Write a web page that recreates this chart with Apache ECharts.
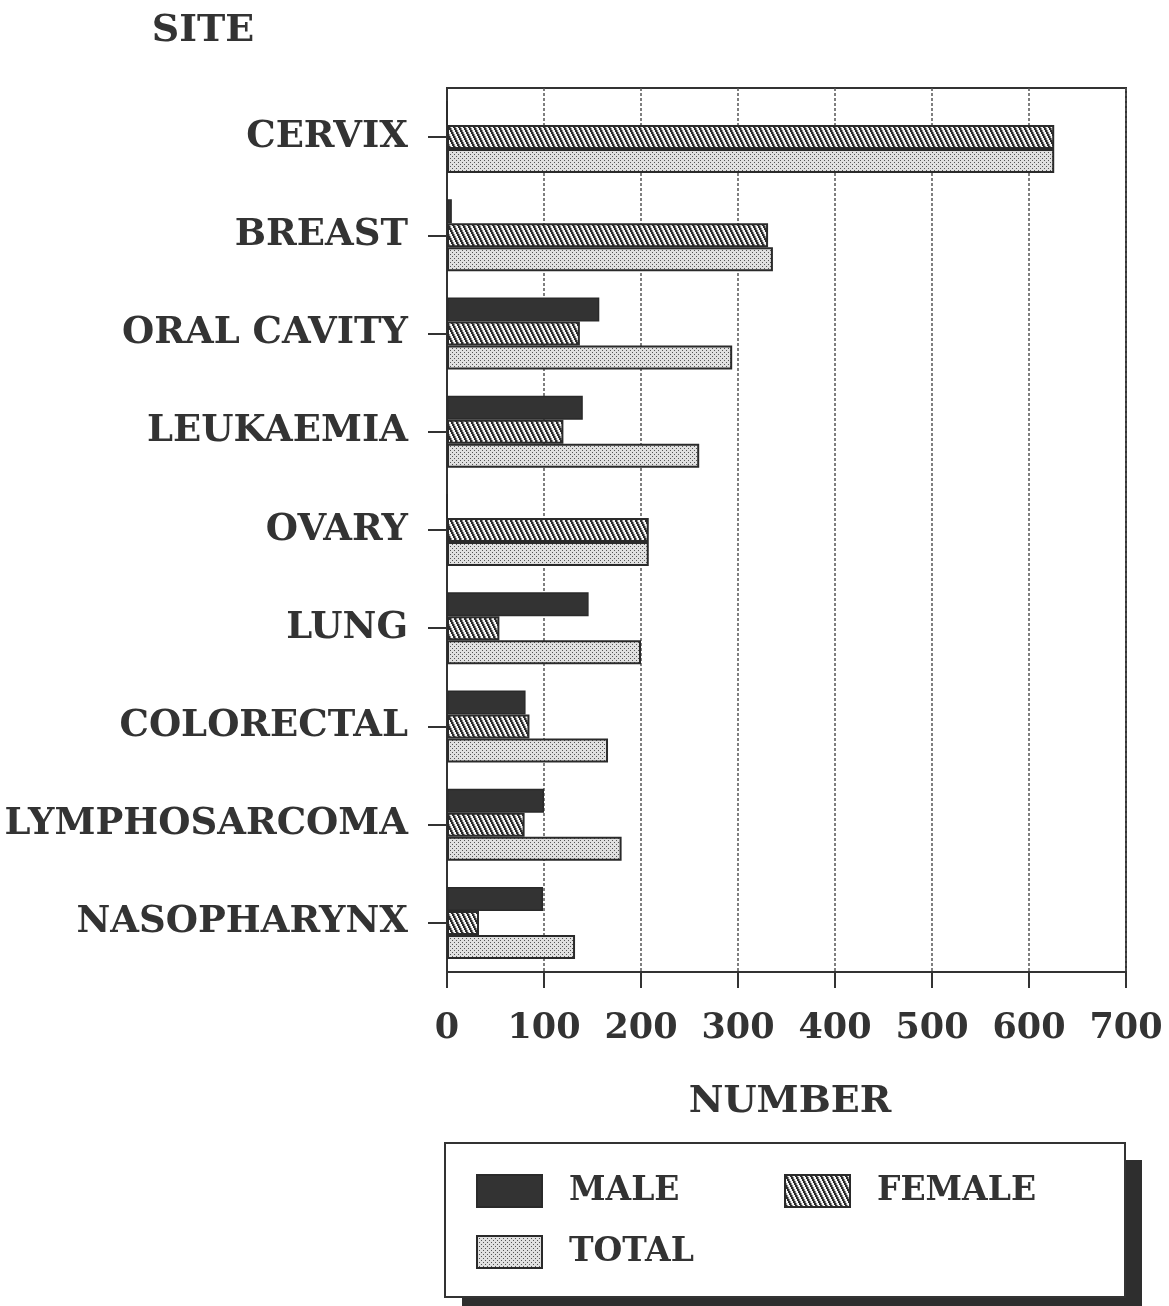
<!DOCTYPE html>
<html>
<head>
<meta charset="utf-8">
<script src="https://cdn.jsdelivr.net/npm/echarts@6/dist/echarts.min.js"></script>
<style>
html,body{margin:0;padding:0;background:#ffffff;}
#chart{width:1169px;height:1306px;}
</style>
</head>
<body>
<div id="chart"></div>
<script>
const sites = ['CERVIX','BREAST','ORAL CAVITY','LEUKAEMIA','OVARY','LUNG','COLORECTAL','LYMPHOSARCOMA','NASOPHARYNX'];
const male   = [0, 5, 157, 140, 0, 146, 81, 100, 99];
const female = [626, 331, 137, 120, 208, 54, 85, 80, 33];
const total  = [626, 336, 294, 260, 208, 200, 166, 180, 132];
const xTicks = [0, 100, 200, 300, 400, 500, 600, 700];

const INK = '#333333';
const FONT = "'DejaVu Serif', serif";

function hatchTile(){
  const c = document.createElement('canvas');
  c.width = 5; c.height = 10;
  const g = c.getContext('2d');
  g.fillStyle = '#f4f4f4'; g.fillRect(0,0,5,10);
  for (let y = 0; y < 10; y++) {
    const x0 = Math.floor(y/2);
    g.fillStyle = '#2a2a2a';
    g.fillRect(x0 % 5, y, 1, 1);
    g.fillRect((x0+1) % 5, y, 1, 1);
    g.fillStyle = '#8a8a8a';
    g.fillRect((x0+2) % 5, y, 1, 1);
  }
  return c;
}
function dotTile(){
  const c = document.createElement('canvas');
  c.width = 4; c.height = 4;
  const g = c.getContext('2d');
  g.fillStyle = '#e0e0e0'; g.fillRect(0,0,4,4);
  g.fillStyle = '#555555';
  g.fillRect(0,0,1,1); g.fillRect(2,2,1,1);
  return c;
}
const hatch = {image: hatchTile(), repeat: 'repeat'};
const dots = {image: dotTile(), repeat: 'repeat'};

const chart = echarts.init(document.getElementById('chart'), null, {renderer: 'canvas'});
const barCommon = {type: 'bar', barWidth: 24, barGap: '0%', animation: false};
const legendCommon = {
  orient: 'horizontal', padding: 0, itemWidth: 65, itemHeight: 32, z: 10,
  selectedMode: false, icon: 'rect',
  textStyle: {fontFamily: FONT, fontWeight: 'bold', fontSize: 33, color: INK, padding: [6,0,0,22]}
};
chart.setOption({
  backgroundColor: '#ffffff',
  animation: false,
  title: [
    {text: 'SITE', left: 198, top: 7, textAlign: 'center',
     textStyle: {fontFamily: FONT, fontWeight: 'bold', fontSize: 38, color: INK}},
    {text: 'NUMBER', left: 785, top: 1078, textAlign: 'center',
     textStyle: {fontFamily: FONT, fontWeight: 'bold', fontSize: 38, color: INK}}
  ],
  grid: {left: 447, right: 43, top: 88, bottom: 334, containLabel: false, outerBoundsMode: 'none',
         show: true, borderColor: INK, borderWidth: 2, backgroundColor: 'transparent'},
  xAxis: {
    type: 'value', min: xTicks[0], max: xTicks[xTicks.length-1], interval: 100,
    axisLine: {show: true, lineStyle: {color: INK, width: 2}},
    axisTick: {show: true, length: 16, lineStyle: {color: INK, width: 2}},
    axisLabel: {margin: 39, fontFamily: FONT, fontWeight: 'bold', fontSize: 35, color: INK},
    splitLine: {show: true, lineStyle: {color: '#555', width: 1.5, type: [3,2]}}
  },
  yAxis: {
    type: 'category', data: sites, inverse: true,
    axisLine: {show: true, lineStyle: {color: INK, width: 2}},
    axisTick: {show: true, alignWithLabel: true, length: 19, lineStyle: {color: INK, width: 2}},
    axisLabel: {margin: 39, fontFamily: FONT, fontWeight: 'bold', fontSize: 37, color: INK},
    splitLine: {show: false}
  },
  legend: [
    Object.assign({}, legendCommon, {data: ['MALE'], left: 476, top: 1174}),
    Object.assign({}, legendCommon, {data: ['FEMALE'], left: 784, top: 1174}),
    Object.assign({}, legendCommon, {data: ['TOTAL'], left: 476, top: 1235})
  ],
  graphic: [
    {type: 'rect', z: 1, shape: {x: 462, y: 1160, width: 680, height: 154}, style: {fill: '#2e2e2e'}},
    {type: 'rect', z: 2, shape: {x: 445, y: 1143, width: 680, height: 154}, style: {fill: '#ffffff', stroke: INK, lineWidth: 2}}
  ],
  series: [
    Object.assign({}, barCommon, {name: 'MALE', data: male,
      itemStyle: {color: '#333333', borderColor: '#2a2a2a', borderWidth: 1.5}}),
    Object.assign({}, barCommon, {name: 'FEMALE', data: female,
      itemStyle: {color: hatch, borderColor: '#2a2a2a', borderWidth: 2}}),
    Object.assign({}, barCommon, {name: 'TOTAL', data: total,
      itemStyle: {color: dots, borderColor: '#2a2a2a', borderWidth: 2}})
  ]
});
</script>
</body>
</html>
